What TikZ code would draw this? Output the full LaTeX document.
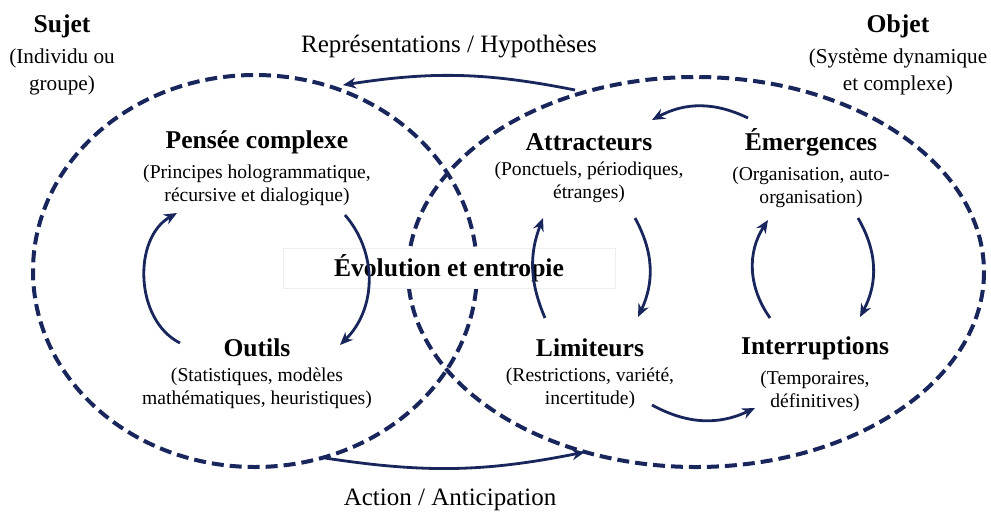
\documentclass[tikz,border=0pt]{standalone}
\usepackage{fontspec}
\setmainfont{Liberation Serif}
\usetikzlibrary{positioning,arrows.meta}
\definecolor{marine}{RGB}{24,38,92}
\definecolor{bordgris}{RGB}{238,238,238}
\tikzset{
  ensemble/.style={draw=marine, line width=2pt, dash pattern=on 6pt off 3pt},
  fleche/.style={draw=marine, line width=1.4pt, -{Stealth[length=6.5pt,width=5.5pt]}},
  titre/.style={font=\bfseries\fontsize{12.8}{14}\selectfont, inner sep=0pt},
  detail/.style={font=\fontsize{9.8}{11.6}\selectfont, align=center, inner sep=0pt},
  grand detail/.style={font=\fontsize{10.6}{13.8}\selectfont, align=center, inner sep=0pt},
  legende/.style={font=\fontsize{12.5}{14}\selectfont, inner sep=0pt},
}
\begin{document}
\begin{tikzpicture}[x=0.5pt, y=-0.5pt]
    \useasboundingbox (0,0) rectangle (991,516);
    % Ensembles
    \draw[ensemble] (255,271) ellipse [x radius=222, y radius=196];
    \draw[ensemble] (696,272) ellipse [x radius=288, y radius=195];
    % Centre
    \node[draw=bordgris, fill=white, minimum width=166pt, minimum height=20pt, inner sep=0pt,
          font=\bfseries\fontsize{12.8}{14}\selectfont] (evol) at (449,268) {Évolution et entropie};
    % Sujet / Objet
    \node[titre] (sujet) at (62,26) {Sujet};
    \node[grand detail, below=5pt of sujet] (sujetD) {(Individu ou\\groupe)};
    \node[titre] (objet) at (898,26) {Objet};
    \node[grand detail, below=5pt of objet] (objetD) {(Système dynamique\\et complexe)};
    % Sujet : pensée et outils
    \node[titre] (pensee) at (257,142) {Pensée complexe};
    \node[detail, below=5pt of pensee] (penseeD) {(Principes hologrammatique,\\récursive et dialogique)};
    \node[titre] (outils) at (257,348) {Outils};
    \node[detail, below=5pt of outils] (outilsD) {(Statistiques, modèles\\mathématiques, heuristiques)};
    % Objet : dynamique
    \node[titre] (attr) at (589,142) {Attracteurs};
    \node[detail, below=5pt of attr] (attrD) {(Ponctuels, périodiques,\\étranges)};
    \node[titre] (emer) at (811,142) {Émergences};
    \node[detail, below=5pt of emer] (emerD) {(Organisation, auto-\\organisation)};
    \node[titre] (limit) at (590,348) {Limiteurs};
    \node[detail, below=5pt of limit] (limitD) {(Restrictions, variété,\\incertitude)};
    \node[titre] (inter) at (815,348) {Interruptions};
    \node[detail, below=5pt of inter] (interD) {(Temporaires,\\définitives)};
    % Legendes des echanges
    \node[legende] (repr) at (449,46) {Représentations / Hypothèses};
    \node[legende] (action) at (450,500) {Action / Anticipation};
    % Echanges entre sujet et objet
    \coordinate (reprD) at (575,90);
    \coordinate (reprA) at (343,85);
    \draw[fleche] (reprD) to[bend right=10] (reprA);
    \coordinate (actD) at (325,458);
    \coordinate (actA) at (585,452);
    \draw[fleche] (actD) to[bend right=10] (actA);
    % Cycle du sujet
    \coordinate (c1) at (180,343); \coordinate (c2) at (177,213);
    \coordinate (c3) at (345,215); \coordinate (c4) at (340,345);
    \draw[fleche] (c1) to[bend left=62] (c2);
    \draw[fleche] (c3) to[bend left=43] (c4);
    % Cycle attracteurs / limiteurs
    \coordinate (a1) at (545,318); \coordinate (a2) at (543,218);
    \coordinate (a3) at (635,218); \coordinate (a4) at (638,317);
    \draw[fleche] (a1) to[bend left=22] (a2);
    \draw[fleche] (a3) to[bend left=27] (a4);
    % Cycle emergences / interruptions
    \coordinate (e1) at (770,318); \coordinate (e2) at (768,220);
    \coordinate (e3) at (858,218); \coordinate (e4) at (860,317);
    \draw[fleche] (e1) to[bend left=34] (e2);
    \draw[fleche] (e3) to[bend left=29] (e4);
    % Liens entre les deux cycles
    \coordinate (l1) at (748,118); \coordinate (l2) at (652,120);
    \draw[fleche] (l1) to[bend right=27] (l2);
    \coordinate (l3) at (652,405); \coordinate (l4) at (755,408);
    \draw[fleche] (l3) to[bend right=27] (l4);
\end{tikzpicture}
\end{document}
